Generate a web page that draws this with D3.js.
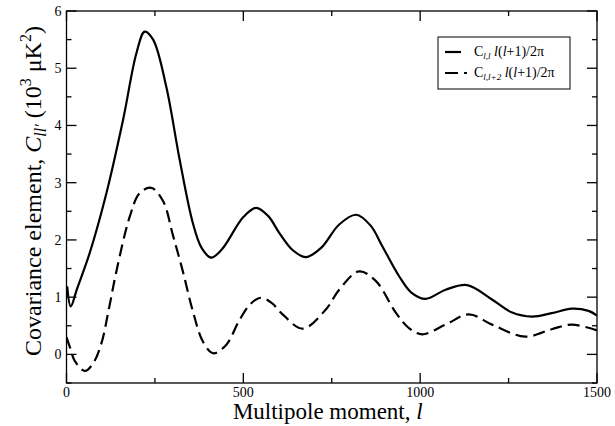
<!DOCTYPE html>
<html>
<head>
<meta charset="utf-8">
<script src="https://cdn.jsdelivr.net/npm/d3@7"></script>
<style>
  html, body { margin: 0; padding: 0; background: #fff; }
  svg { display: block; }
  text { font-family: "Liberation Serif", "Times New Roman", serif; fill: #000; }
</style>
</head>
<body>
<svg id="chart" width="615" height="426"></svg>
<script>
// ---- data ----
const lSolid = [2, 12, 30, 66, 113, 160, 198, 221, 245, 282, 320, 357, 382, 409, 440, 500, 536, 570, 602, 640, 677, 720, 771, 819, 860, 893, 940, 975, 1015, 1072, 1133, 1203, 1260, 1316, 1372, 1429, 1476, 1500];
const cSolid = [1.19, 0.84, 1.15, 1.78, 2.82, 4.10, 5.27, 5.64, 5.50, 4.68, 3.40, 2.30, 1.86, 1.69, 1.84, 2.40, 2.56, 2.42, 2.12, 1.82, 1.70, 1.86, 2.27, 2.44, 2.25, 1.89, 1.37, 1.08, 0.97, 1.13, 1.21, 0.96, 0.73, 0.66, 0.72, 0.80, 0.76, 0.68];
const lDashed = [0, 10, 24, 52, 76, 99, 120, 141, 179, 207, 240, 273, 301, 329, 357, 386, 415, 452, 489, 520, 550, 580, 611, 668, 734, 771, 827, 875, 931, 970, 1006, 1072, 1138, 1203, 1297, 1372, 1429, 1500];
const cDashed = [0.30, 0.12, -0.12, -0.29, -0.15, 0.20, 0.80, 1.45, 2.41, 2.82, 2.91, 2.68, 2.08, 1.45, 0.76, 0.22, 0.02, 0.17, 0.60, 0.88, 0.99, 0.90, 0.70, 0.45, 0.79, 1.13, 1.45, 1.28, 0.73, 0.45, 0.35, 0.52, 0.70, 0.52, 0.31, 0.44, 0.52, 0.42];
const xMajorTicks = [0, 500, 1000, 1500];
const xMinorTicks = [250, 750, 1250];
const yMajorTicks = [0, 1, 2, 3, 4, 5, 6];
const yMinorTicks = [-0.5, 0.5, 1.5, 2.5, 3.5, 4.5, 5.5];

// ---- layout ----
const svg = d3.select("#chart");
const L = 66.5, R = 597, T = 11, B = 383;
const x = d3.scaleLinear().domain([0, 1500]).range([L, R]);
const y = d3.scaleLinear().domain([-0.5, 6]).range([B, T]);

svg.append("clipPath").attr("id", "clip")
  .append("rect").attr("x", L).attr("y", T).attr("width", R - L).attr("height", B - T);

const line = d3.line().x(d => x(d[0])).y(d => y(d[1])).curve(d3.curveCatmullRom.alpha(0.5));

const g = svg.append("g").attr("clip-path", "url(#clip)");
g.append("path").datum(d3.zip(lSolid, cSolid))
  .attr("d", line).attr("fill", "none").attr("stroke", "#000").attr("stroke-width", 2.2);
g.append("path").datum(d3.zip(lDashed, cDashed))
  .attr("d", line).attr("fill", "none").attr("stroke", "#000").attr("stroke-width", 2.2)
  .attr("stroke-dasharray", "12,6");

// ---- frame & ticks ----
const ax = svg.append("g").attr("stroke", "#000").attr("stroke-width", 1.3);
ax.append("rect").attr("x", L).attr("y", T).attr("width", R - L).attr("height", B - T).attr("fill", "none");
const MAJ = 10, MIN = 5;
xMajorTicks.concat(xMinorTicks).forEach(v => {
  const len = xMajorTicks.includes(v) ? MAJ : MIN;
  ax.append("line").attr("x1", x(v)).attr("x2", x(v)).attr("y1", B).attr("y2", B - len);
  ax.append("line").attr("x1", x(v)).attr("x2", x(v)).attr("y1", T).attr("y2", T + len);
});
yMajorTicks.concat(yMinorTicks).forEach(v => {
  const len = yMajorTicks.includes(v) ? MAJ : MIN;
  ax.append("line").attr("y1", y(v)).attr("y2", y(v)).attr("x1", L).attr("x2", L + len);
  ax.append("line").attr("y1", y(v)).attr("y2", y(v)).attr("x1", R).attr("x2", R - len);
});

// tick labels
svg.append("g").selectAll("text").data(xMajorTicks).join("text")
  .attr("x", d => x(d)).attr("y", B + 14).attr("text-anchor", "middle")
  .attr("font-size", 14).text(d => d);
svg.append("g").selectAll("text").data(yMajorTicks).join("text")
  .attr("x", L - 5).attr("y", d => y(d) + 5).attr("text-anchor", "end")
  .attr("font-size", 14).text(d => d);

// axis titles
const xt = svg.append("text").attr("x", (L + R) / 2 - 4).attr("y", 419)
  .attr("text-anchor", "middle").attr("font-size", 23);
xt.append("tspan").text("Multipole moment, ");
xt.append("tspan").attr("font-style", "italic").text("l");

const yt = svg.append("text").attr("transform", `translate(41, ${(T + B) / 2 - 6}) rotate(-90)`)
  .attr("text-anchor", "middle").attr("font-size", 24);
yt.append("tspan").text("Covariance element, ");
yt.append("tspan").attr("font-style", "italic").text("C");
yt.append("tspan").attr("font-style", "italic").attr("font-size", 16).attr("dy", 5).text("ll′");
yt.append("tspan").attr("dy", -5).text(" (10");
yt.append("tspan").attr("font-size", 16).attr("dy", -10).text("3");
yt.append("tspan").attr("dy", 10).text(" μK");
yt.append("tspan").attr("font-size", 16).attr("dy", -10).text("2");
yt.append("tspan").attr("dy", 10).text(")");

// ---- legend ----
const lg = svg.append("g");
lg.append("rect").attr("x", 438).attr("y", 37).attr("width", 132).attr("height", 52)
  .attr("fill", "#fff").attr("stroke", "#000").attr("stroke-width", 1);
const legendItems = [
  { sub: "l,l", dash: null, yy: 52 },
  { sub: "l,l+2", dash: "13,6", yy: 73 }
];
legendItems.forEach(it => {
  lg.append("line").attr("x1", 445).attr("x2", it.dash ? 467 : 461)
    .attr("y1", it.yy).attr("y2", it.yy)
    .attr("stroke", "#000").attr("stroke-width", 2.2)
    .attr("stroke-dasharray", it.dash);
  const t = lg.append("text").attr("x", 474).attr("y", it.yy + 4).attr("font-size", 14);
  t.append("tspan").text("C");
  t.append("tspan").attr("font-size", 9).attr("font-style", "italic").attr("dy", 3).text(it.sub);
  t.append("tspan").attr("dy", -3).text(" ");
  t.append("tspan").attr("font-style", "italic").text("l");
  t.append("tspan").text("(");
  t.append("tspan").attr("font-style", "italic").text("l");
  t.append("tspan").text("+1)/2π");
});
</script>
</body>
</html>
